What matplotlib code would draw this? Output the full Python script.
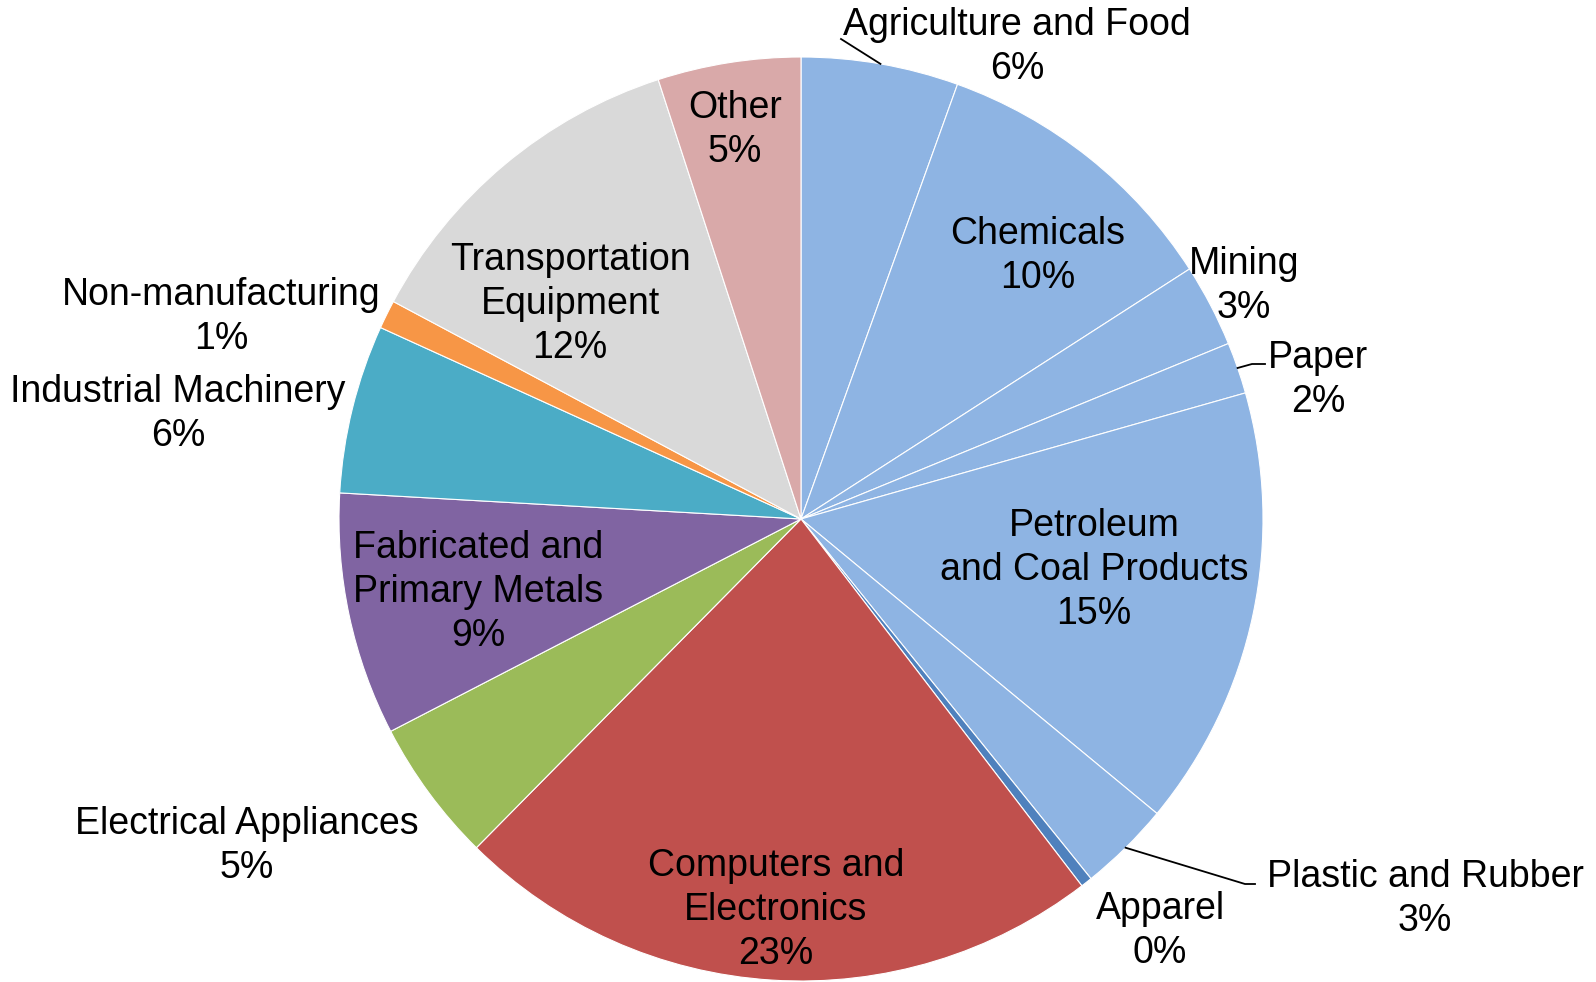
import numpy as np
import matplotlib.pyplot as plt

# sector shares in percent, clockwise from 12 o'clock
sectors = [
    "Agriculture and Food", "Chemicals", "Mining", "Paper",
    "Petroleum\nand Coal Products", "Plastic and Rubber", "Apparel",
    "Computers and\nElectronics", "Electrical Appliances",
    "Fabricated and\nPrimary Metals", "Industrial Machinery",
    "Non-manufacturing", "Transportation\nEquipment", "Other",
]
shares = [5.5, 10.4, 2.9, 1.8, 15.4, 3.2, 0.4, 22.8, 5.0, 8.5, 5.9, 1.0, 12.2, 5.0]
pct_labels = ["6%", "10%", "3%", "2%", "15%", "3%", "0%", "23%", "5%", "9%", "6%", "1%", "12%", "5%"]

colors = [
    "#8EB4E3", "#8EB4E3", "#8EB4E3", "#8EB4E3", "#8EB4E3", "#8EB4E3", "#4F81BD",
    "#C0504D", "#9BBB59", "#8064A2", "#4BACC6", "#F79646", "#D9D9D9", "#D9A9A9",
]

# label centres in figure pixels (x from left, y from top)
label_px = [
    (1017, 47), (1038, 256), (1244, 286), (1318, 380), (1094, 570),
    (1425, 899), (1160, 931), (776, 910), (247, 846), (478, 592),
    (178, 414), (221, 317), (570, 304), (735, 130),
]
# wedges with a leader line: index -> elbow point (px)
leaders = {
    0: [(841, 39)],
    3: [(1252, 364), (1265, 364)],
    5: [(1245, 884), (1255, 884)],
}

W, H = 1596, 982
CX, CY, R = 801, 519, 462

plt.rcParams["font.family"] = ["Liberation Sans", "DejaVu Sans"]

fig = plt.figure(figsize=(W / 100, H / 100), dpi=100)
ax = fig.add_axes([0, 0, 1, 1])

wedges, _ = ax.pie(
    shares,
    colors=colors,
    startangle=90,
    counterclock=False,
    center=(CX, H - CY),
    radius=R,
    wedgeprops=dict(edgecolor="white", linewidth=0.8),
)
ax.set_xlim(0, W)
ax.set_ylim(0, H)
ax.set_aspect("equal")
ax.axis("off")

for i, (name, pct) in enumerate(zip(sectors, pct_labels)):
    x, y = label_px[i]
    ax.text(x, H - y, f"{name}\n{pct}", ha="center", va="center",
            fontsize=27, linespacing=1.27, color="black")

for i, pts in leaders.items():
    w = wedges[i]
    mid = np.deg2rad((w.theta1 + w.theta2) / 2)
    sx = CX + R * np.cos(mid)
    sy = (H - CY) + R * np.sin(mid)
    xs = [sx] + [p[0] for p in pts]
    ys = [sy] + [H - p[1] for p in pts]
    ax.plot(xs, ys, color="black", linewidth=1.3)

fig.savefig("out.png", dpi=100)
